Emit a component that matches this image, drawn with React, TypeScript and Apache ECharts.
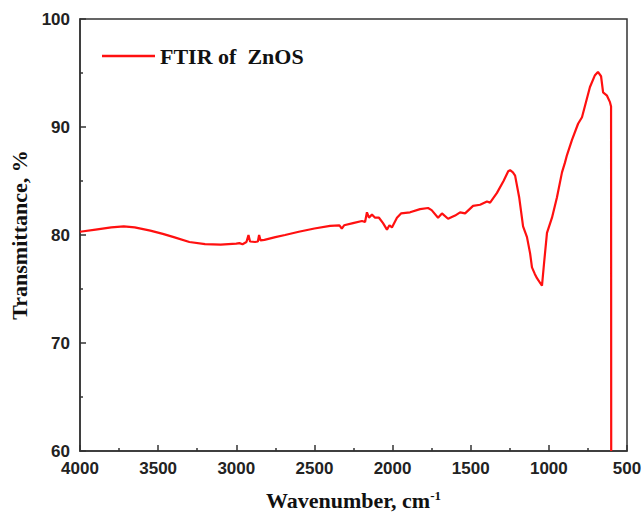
import React, { useEffect, useRef } from "react";
import * as echarts from "echarts";

const wavenumbers = [
  4000, 3900, 3800, 3720, 3650, 3550, 3470, 3400, 3300, 3200, 3100, 3000, 2980, 2960, 2935, 2922, 2912, 2880, 2862,
  2854, 2845, 2820, 2750, 2688, 2600, 2500, 2400, 2340, 2325, 2310, 2253, 2196, 2176, 2164, 2151, 2132, 2112, 2087,
  2061, 2036, 2020, 2004, 1972, 1946, 1888, 1824, 1773, 1750, 1709, 1684, 1645, 1600, 1568, 1536, 1485, 1440, 1396,
  1376, 1332, 1290, 1260, 1248, 1230, 1216, 1190, 1165, 1140, 1120, 1108, 1090, 1076, 1044, 1030, 1012, 980, 948,
  916, 897, 884, 852, 813, 788, 737, 705, 686, 666, 653, 628, 609, 602, 601,
];
const transmittance = [
  80.3, 80.5, 80.7, 80.8, 80.7, 80.4, 80.1, 79.8, 79.35, 79.15, 79.1, 79.2, 79.25, 79.15, 79.35, 80.0, 79.4, 79.35,
  79.4, 80.0, 79.5, 79.55, 79.8, 80.0, 80.3, 80.6, 80.85, 80.9, 80.6, 80.9, 81.1, 81.3, 81.2, 82.1, 81.6, 81.9, 81.6,
  81.6, 81.1, 80.5, 80.9, 80.7, 81.6, 82.0, 82.1, 82.4, 82.5, 82.3, 81.6, 82.0, 81.5, 81.8, 82.1, 82.0, 82.7, 82.8,
  83.1, 83.0, 83.9, 85.0, 85.9, 86.0, 85.8, 85.5, 83.5, 80.8, 79.8, 78.3, 77.0, 76.4, 76.0, 75.3, 77.5, 80.2, 81.6,
  83.5, 85.8, 86.7, 87.4, 88.8, 90.3, 90.9, 93.7, 94.8, 95.1, 94.7, 93.2, 92.9, 92.3, 91.9, 60,
];
const seriesName = "FTIR of  ZnOS";
const xTitle = "Wavenumber, cm";
const xTitleSup = "-1";
const yTitle = "Transmittance, %";

const serif = "'Liberation Serif', 'Times New Roman', serif";
const sans = "'Liberation Sans', Arial, sans-serif";

export default function App() {
  const ref = useRef<HTMLDivElement>(null);
  useEffect(() => {
    if (!ref.current) return;
    const chart = echarts.init(ref.current, undefined, { renderer: "svg" });
    const data = wavenumbers.map((w, i) => [w, transmittance[i]]);
    const axisColor = "#333";
    chart.setOption({
      animation: false,
      backgroundColor: "#fff",
      grid: {
        left: 80,
        right: 16,
        top: 19,
        bottom: 63,
        show: true,
        borderColor: axisColor,
        borderWidth: 1.5,
        backgroundColor: "transparent",
        containLabel: false,
        outerBoundsMode: "none",
      },
      legend: {
        left: 102,
        top: 45,
        padding: 0,
        icon: "rect",
        itemWidth: 53,
        itemHeight: 2.5,
        textStyle: { fontFamily: serif, fontWeight: "bold", fontSize: 22, color: "#111" },
        data: [seriesName],
      },
      xAxis: {
        type: "value",
        min: 500,
        max: 4000,
        interval: 500,
        inverse: true,
        name: `{a|${xTitle}}{b|${xTitleSup}}`,
        nameLocation: "middle",
        nameGap: 38,
        nameTextStyle: {
          rich: {
            a: { fontFamily: serif, fontWeight: "bold", fontSize: 22, color: "#111", lineHeight: 22 },
            b: { fontFamily: serif, fontWeight: "bold", fontSize: 13, color: "#111", verticalAlign: "top", lineHeight: 13 },
          },
        },
        axisLine: { show: true, lineStyle: { color: axisColor, width: 1.5 } },
        axisTick: { show: true, inside: true, length: 6, lineStyle: { color: axisColor, width: 1.5 } },
        minorTick: { show: true, splitNumber: 2, length: 3, lineStyle: { color: axisColor, width: 1.5 } },
        splitLine: { show: false },
        axisLabel: {
          fontFamily: sans,
          fontWeight: "bold",
          fontSize: 17,
          color: "#222",
          margin: 9,
          formatter: (v: number) => String(v),
        },
      },
      yAxis: {
        type: "value",
        min: 60,
        max: 100,
        interval: 10,
        name: yTitle,
        nameLocation: "middle",
        nameGap: 44,
        nameTextStyle: { fontFamily: serif, fontWeight: "bold", fontSize: 22, color: "#111" },
        axisLine: { show: true, lineStyle: { color: axisColor, width: 1.5 } },
        axisTick: { show: true, inside: true, length: 6, lineStyle: { color: axisColor, width: 1.5 } },
        minorTick: { show: true, splitNumber: 2, length: 3, lineStyle: { color: axisColor, width: 1.5 } },
        splitLine: { show: false },
        axisLabel: {
          fontFamily: sans,
          fontWeight: "bold",
          fontSize: 17,
          color: "#222",
          margin: 10,
          formatter: (v: number) => String(v),
        },
      },
      series: [
        {
          name: seriesName,
          type: "line",
          data,
          showSymbol: false,
          symbol: "none",
          color: "#ff1010",
          lineStyle: { color: "#ff1010", width: 2.2 },
          clip: true,
        },
      ],
    });
    return () => chart.dispose();
  }, []);
  return <div ref={ref} style={{ position: "fixed", left: 0, top: 0, width: 643, height: 514 }} />;
}
